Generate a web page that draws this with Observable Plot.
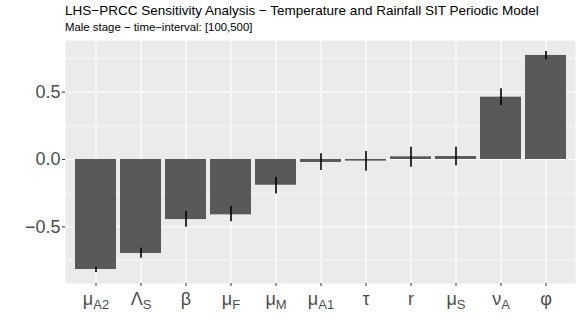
<!DOCTYPE html>
<html><head><meta charset="utf-8">
<script src="https://cdn.jsdelivr.net/npm/d3@7"></script>
<script src="https://cdn.jsdelivr.net/npm/@observablehq/plot@0.6"></script>
<style>
body{margin:0;background:#fff;font-family:"Liberation Sans",Arial,sans-serif;}
#header{height:40px;position:relative;width:581px;}
#title{position:absolute;left:65px;top:3px;font-size:13.5px;color:#000;white-space:nowrap;}
#subtitle{position:absolute;left:65px;top:21px;font-size:11.4px;color:#000;white-space:nowrap;}
svg{display:block;}
</style></head><body>
<div id="header">
<div id="title">LHS−PRCC Sensitivity Analysis − Temperature and Rainfall SIT Periodic Model</div>
<div id="subtitle">Male stage − time−interval: [100,500]</div>
</div>
<div id="chart"></div>
<script>
const params = ["muA2","LambdaS","beta","muF","muM","muA1","tau","r","muS","nuA","phi"];
const baseLabels = ["μ","Λ","β","μ","μ","μ","τ","r","μ","ν","φ"];
const subLabels = ["A2","S","","F","M","A1","","","S","A",""];
const prcc = [-0.817,-0.698,-0.446,-0.411,-0.191,-0.022,-0.012,0.020,0.022,0.463,0.773];
const errLow = [-0.840,-0.733,-0.503,-0.463,-0.257,-0.082,-0.087,-0.057,-0.047,0.401,0.741];
const errHigh = [-0.800,-0.660,-0.384,-0.349,-0.131,0.042,0.059,0.091,0.091,0.525,0.802];
const yTicks = [-0.5, 0, 0.5];
const yMinor = [-0.75, -0.25, 0.25, 0.75];
const yTickLabels = ["−0.5","0.0","0.5"];

const data = params.map((p, i) => ({p, v: prcc[i], lo: errLow[i], hi: errHigh[i]}));

const plot = Plot.plot({
  width: 581,
  height: 292,
  marginTop: 0,
  marginBottom: 49,
  marginLeft: 65,
  marginRight: 6,
  style: {fontFamily: "Liberation Sans, Arial, sans-serif", background: "#fff"},
  x: {type: "band", domain: params, paddingInner: 0.1, paddingOuter: 0.15, label: null},
  y: {domain: [-0.921, 0.884], label: null},
  marks: [
    Plot.frame({fill: "#EBEBEB", stroke: null}),
    Plot.ruleY(yMinor, {stroke: "#fff", strokeWidth: 0.55}),
    Plot.ruleY(yTicks, {stroke: "#fff", strokeWidth: 1.1}),
    Plot.ruleX(params, {x: d => d, stroke: "#fff", strokeWidth: 1.1}),
    Plot.barY(data, {x: "p", y: "v", fill: "#595959"}),
    Plot.ruleX(data, {x: "p", y1: "lo", y2: "hi", stroke: "#000", strokeWidth: 1.6}),
    Plot.axisY({ticks: yTicks, tickFormat: d => yTickLabels[yTicks.indexOf(d)], tickSize: 3, tickPadding: 2, fontSize: 18, color: "#4D4D4D", stroke: "#333"}),
    Plot.axisX({tickSize: 3, tickPadding: 6, fontSize: 18, color: "#4D4D4D", stroke: "#333", tickFormat: d => baseLabels[params.indexOf(d)]})
  ]
});
document.getElementById("chart").appendChild(plot);

d3.select(plot).selectAll('g[aria-label="x-axis tick label"] text').each(function(d, i) {
  const t = d3.select(this);
  if (!subLabels[i]) return;
  t.append("tspan").attr("font-size", 13).attr("dy", 4).text(subLabels[i]);
});
</script>
</body></html>
